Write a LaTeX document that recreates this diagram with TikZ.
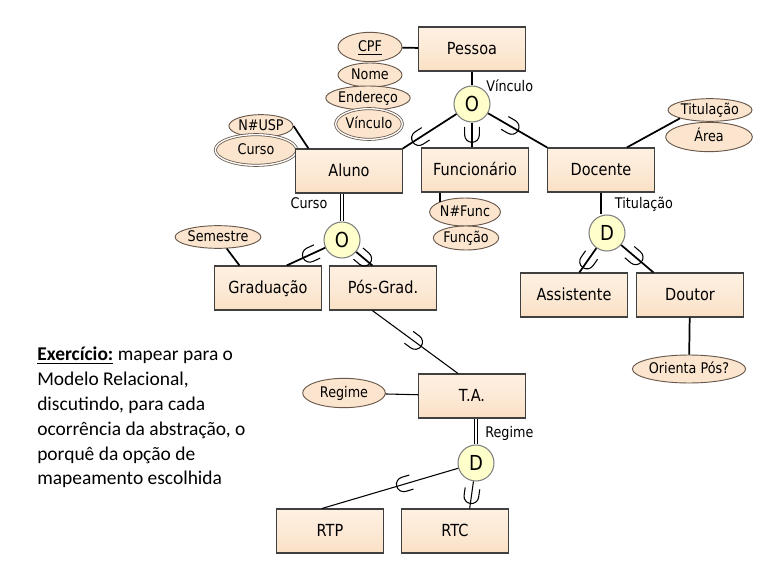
\documentclass[tikz,border=0pt]{standalone}
\usepackage{fontspec}
\newfontfamily\erfont[FakeStretch = 0.87]{DejaVu Sans}
\newfontfamily\notefont{Carlito}
\usetikzlibrary{shapes.geometric}

\definecolor{entfill}{RGB}{250,224,196}
\definecolor{entlight}{RGB}{254,240,226}
\definecolor{attfill}{RGB}{251,229,206}
\definecolor{attdraw}{RGB}{105,88,75}
\definecolor{genfill}{RGB}{255,255,204}

\tikzset{
  entity/.style = {draw = black!75, top color = entlight, bottom color = entfill, middle color = entlight!60!entfill, line width = 0.8pt, minimum width = 80pt, minimum height = 33pt, text height = 9.2pt, text depth = 0.8pt, font = \erfont\fontsize{12.5}{14}\selectfont},
  attrib/.style = {ellipse, draw = attdraw, fill = attfill, line width = 0.7pt, inner sep = 0pt, text height = 8pt, text depth = 0.8pt, font = \erfont\fontsize{11}{12}\selectfont},
  multival/.style = {attrib, double = white, double distance = 1pt, line width = 0.6pt},
  gen/.style = {circle, draw = black!50, fill = genfill, line width = 0.8pt, minimum size = 27pt, inner sep = 0pt, font = \erfont\fontsize{15.5}{16}\selectfont},
  lbl/.style = {font = \erfont\fontsize{11}{12}\selectfont, inner sep = 0pt},
  conn/.style = {line width = 1.3pt},
  thinconn/.style = {line width = 0.8pt},
  twoline/.style = {double, double distance = 1.8pt, line width = 0.8pt},
  subsetmark/.pic = {\draw[line width = 0.8pt] (-6pt,5.5pt) -- (0,5.5pt) arc[start angle = 90, end angle = -90, radius = 5.5pt] -- (-6pt,-5.5pt);}
}

\begin{document}
\begin{tikzpicture}[x = 0.75pt, y = -0.75pt]
    \useasboundingbox (0,0) rectangle (771,574);

    \node[attrib, minimum width = 48pt, minimum height = 22pt](cpf) at (370,47) {\underline{CPF}};
    \node[attrib, minimum width = 48pt, minimum height = 18pt](nome) at (370,75) {Nome};
    \node[attrib, minimum width = 52pt, minimum height = 18pt](endereco) at (368,98) {Endereço};
    \node[multival, minimum width = 50pt, minimum height = 23pt](vinculoattr) at (369,124) {Vínculo};

    \node[attrib, minimum width = 48pt, minimum height = 17pt](nusp) at (261,126) {N\#USP};
    \node[multival, minimum width = 61pt, minimum height = 23pt](curso) at (256,150) {Curso};
    \node[attrib, minimum width = 62pt, minimum height = 17pt](semestre) at (218,237) {Semestre};

    \node[attrib, minimum width = 48pt, minimum height = 21pt](nfunc) at (465,212) {N\#Func};
    \node[attrib, minimum width = 49pt, minimum height = 18pt](funcao) at (466,238) {Função};

    \node[attrib, minimum width = 63pt, minimum height = 17pt](titulacao) at (710,110) {Titulação};
    \node[attrib, minimum width = 65pt, minimum height = 22pt](area) at (709,137) {Área};
    \node[attrib, minimum width = 81pt, minimum height = 21pt](orienta) at (689,369) {Orienta Pós?};
    \node[attrib, minimum width = 62pt, minimum height = 22pt](regime) at (344,393) {Regime};

    \node[entity](pessoa) at (472,49) {Pessoa};
    \node[entity](aluno) at (349,171) {Aluno};
    \node[entity](funcionario) at (475,170) {Funcionário};
    \node[entity](docente) at (601,170) {Docente};
    \node[entity](graduacao) at (268,288) {Graduação};
    \node[entity](posgrad) at (383,288) {Pós-Grad.};
    \node[entity](assistente) at (574,295) {Assistente};
    \node[entity](doutor) at (690,295) {Doutor};
    \node[entity](ta) at (472,396) {T.A.};
    \node[entity](rtp) at (330,531) {RTP};
    \node[entity](rtc) at (455,531) {RTC};

    \node[gen](o1) at (472,104) {O};
    \node[gen](o2) at (342,240) {O};
    \node[gen](d1) at (607,233) {D};
    \node[gen](d2) at (476,463) {D};

    \node[lbl, anchor = west](vinculolbl) at (486,86) {Vínculo};
    \node[lbl](cursolbl) at (309,203) {Curso};
    \node[lbl](titulacaolbl) at (644,204) {Titulação};
    \node[lbl, anchor = west](regimelbl) at (485,433) {Regime};

    \draw [conn] (cpf) -- (pessoa);
    \draw [conn] (nusp.east) -- ([xshift = 10pt]aluno.north west);
    \draw [conn] (semestre) -- ([xshift = 19pt]graduacao.north west);
    \draw [conn] (titulacao.south west) -- ([xshift = -21pt]docente.north east);
    \draw [conn] (nfunc.north west |- funcionario.south) -- (nfunc.north west);
    \draw [conn] (doutor) -- (orienta);
    \draw [thinconn] (regime) -- (ta);

    \draw [conn] (pessoa) -- (o1);
    \draw [conn] (o1) -- (aluno.north east) pic[pos = 0.7, sloped, allow upside down]{subsetmark};
    \draw [conn] (o1) -- (o1 |- funcionario.north) pic[pos = 0.5, sloped, allow upside down]{subsetmark};
    \draw [conn] (o1) -- (docente.north west) pic[pos = 0.4, sloped, allow upside down]{subsetmark};

    \draw [twoline] (o2.north |- aluno.south) -- (o2.north);
    \draw [conn] (o2) -- ([xshift = 14pt]graduacao.north) pic[pos = 0.4, sloped, allow upside down]{subsetmark};
    \draw [conn] (o2) -- ([xshift = -8pt]posgrad.north) pic[pos = 0.5, sloped, allow upside down]{subsetmark};

    \draw [conn] (docente.south) -- (docente.south |- d1.north);
    \draw [conn] (d1) -- ([xshift = 4pt]assistente.north) pic[pos = 0.55, sloped, allow upside down]{subsetmark};
    \draw [conn] (d1) -- ([xshift = 13pt]doutor.north west) pic[pos = 0.45, sloped, allow upside down]{subsetmark};

    \draw [thinconn] ([xshift = -8pt]posgrad.south) -- ([xshift = -10.5pt]ta.north) pic[pos = 0.5, sloped, allow upside down]{subsetmark};

    \draw [twoline] (d2.north |- ta.south) -- (d2.north);
    \draw [thinconn] (d2) -- ([xshift = -6pt]rtp.north) pic[pos = 0.4, sloped, allow upside down]{subsetmark};
    \draw [thinconn] (d2) -- ([xshift = 11pt]rtc.north) pic[pos = 0.55, sloped, allow upside down]{subsetmark};

    \node[anchor = north west, align = left, inner sep = 0pt, font = \notefont\fontsize{14.6}{18.6}\selectfont](exercicio) at (37,347) {\underline{\textbf{Exercício:}} mapear para o\\Modelo Relacional,\\discutindo, para cada\\ocorrência da abstração, o\\porquê da opção de\\mapeamento escolhida};
\end{tikzpicture}
\end{document}
